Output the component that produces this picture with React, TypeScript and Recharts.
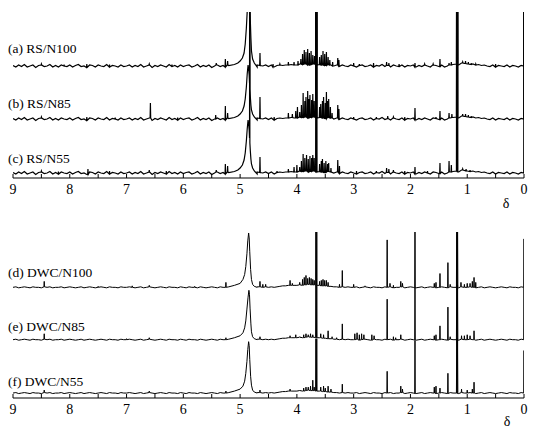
import React from 'react';
import { LineChart, Line, XAxis, YAxis } from 'recharts';

// chemical shift ticks, every 0.5 ppm, labelled on the integers
const TICKS = [9, 8.5, 8, 7.5, 7, 6.5, 6, 5.5, 5, 4.5, 4, 3.5, 3, 2.5, 2, 1.5, 1, 0.5, 0];
const LABELS_TOP = ['(a) RS/N100', '(b) RS/N85', '(c) RS/N55'];
const LABELS_BOTTOM = ['(d) DWC/N100', '(e) DWC/N85', '(f) DWC/N55'];

// baseline wiggle, 9.00 -> 0.00 ppm in 0.05 steps
const NOISE_TOP = [
  0.5, -1, 1, -0.5, 1.5, -1, 0, 1, -1.5, 0.5, 1, -0.5, 0, 1.5, -1, 0.5, -1, 1, 0, -0.5,
  1, -1, 0.5, 1.5, -0.5, 0, -1.5, 1, 0.5, -1, 1, 0, -0.5, 1.5, -1, 0.5, 0, -1, 1, -0.5,
  0, 1, -1, 0.5, -0.5, 1.5, -1, 0, 1, -1.5, 0.5, -0.5, 1, 0, -1, 1.5, -0.5, 0.5, -1, 1,
  -0.5, 0.5, 1, -1, 0, 1.5, -1, 0.5, -0.5, 1, -1.5, 0, 1, -0.5, 0.5, -1, 1, 0, -0.5, 1,
  0.5, -1, 1, 0, -0.5, 1, -1, 0.5, 0, 1, -0.5, 1, -1, 0.5, 1, 0.5, 1, 1, 1.5, 1,
  1, 2, 1.5, 2, 1, 1.5, 2, 1, 1.5, 1, 0.5, 1.5, 1, 0, 1, -0.5, 1, 0, -0.5, 1,
  0, -1, 0.5, 1, -0.5, 0, 1, -1, 0.5, 0, 1.5, -0.5, 0.5, -1, 1, 0, -0.5, 1, -1, 0.5,
  0, 1, -1, 0.5, -0.5, 1, 0, -1, 1, 0.5, -0.5, 1, -1, 0, 1, 1.5, 2, 1, 3, 2.5,
  2, 1.5, 2, 1, 1.5, 0.5, 1, 0, -0.5, 1, -1, 0.5, 0, -0.5, 1, -1, 0.5, 0, -1, 0.5,
  0,
];
const NOISE_BOTTOM = [
  0, 0.5, -0.5, 0, 0.5, 0, -0.5, 0.5, 0, 0, -0.5, 0.5, 0, 0.5, -0.5, 0, 0, 0.5, -0.5, 0,
  0.5, 0, -0.5, 0, 0.5, -0.5, 0, 0.5, 0, -0.5, 0, 0.5, 0, -0.5, 0.5, 0, 0, -0.5, 0.5, 0,
  0, 0.5, 0, -0.5, 0, 0.5, -0.5, 0, 0.5, 0, -0.5, 0, 0.5, 0, -0.5, 0.5, 0, 0, -0.5, 0.5,
  0, -0.5, 0.5, 0, 0, -0.5, 0.5, 0, -0.5, 0, 0.5, 0, -0.5, 0.5, 0, 0, 0.5, -0.5, 0, 0.5,
  0, 0.5, 0, -0.5, 0.5, 0, 0, 0.5, 0, 0.5, 0, 0.5, 0, 0.5, 1, 1.5, 1.5, 2, 2, 2,
  2, 2.5, 2, 2.5, 3, 2.5, 2.5, 2, 2, 1.5, 1.5, 1, 1, 0.5, 0.5, 0, 0.5, 0, 0.5, 0,
  0, 0.5, -0.5, 0, 0.5, 0, -0.5, 0.5, 0, 0, -0.5, 0.5, 0, 0.5, -0.5, 0, 0, 0.5, -0.5, 0,
  0.5, 0, -0.5, 0, 0.5, -0.5, 0, 0.5, 0, -0.5, 0, 0.5, 0, -0.5, 0.5, 0, 0, -0.5, 0.5, 0,
  0, 0.5, 0, -0.5, 0, 0.5, -0.5, 0, 0.5, 0, -0.5, 0, 0.5, 0, -0.5, 0.5, 0, 0, -0.5, 0.5,
  0,
];

// broad HOD peak, [ppm, intensity]
const WATER_A = [[5.2, 0.5], [5.1, 1.5], [5.04, 3], [5.0, 5], [4.96, 8], [4.93, 13], [4.91, 22], [4.89, 38], [4.87, 60], [4.85, 90], [4.84, 80], [4.834, 70], [4.831, 200], [4.828, 60], [4.82, 45], [4.81, 28], [4.8, 15], [4.78, 7], [4.75, 3], [4.7, 1]];
const WATER_B = [[5.2, 0.5], [5.1, 1.5], [5.04, 3], [5.0, 5], [4.96, 8], [4.93, 13], [4.91, 20], [4.89, 32], [4.875, 45], [4.86, 54], [4.85, 50], [4.84, 44], [4.834, 36], [4.831, 200], [4.828, 30], [4.82, 22], [4.81, 14], [4.8, 9], [4.78, 5], [4.75, 2], [4.7, 1]];
const WATER_C = [[5.2, 0.5], [5.1, 1.5], [5.04, 3], [5.0, 5], [4.96, 8], [4.93, 13], [4.91, 20], [4.89, 32], [4.875, 44], [4.86, 53], [4.85, 49], [4.84, 43], [4.834, 35], [4.831, 200], [4.828, 30], [4.82, 22], [4.81, 14], [4.8, 9], [4.78, 5], [4.75, 2], [4.7, 1]];
const WATER_D = [[5.2, 0.5], [5.1, 2], [5.0, 4], [4.95, 8], [4.92, 13], [4.9, 21], [4.88, 34], [4.865, 47], [4.85, 55], [4.84, 50], [4.83, 36], [4.815, 18], [4.8, 8], [4.78, 3], [4.75, 1], [4.7, 0.5]];
const WATER_E = [[5.2, 0.5], [5.1, 2], [5.0, 4], [4.95, 7], [4.92, 12], [4.9, 19], [4.88, 31], [4.86, 43], [4.845, 50], [4.835, 46], [4.825, 32], [4.81, 16], [4.8, 8], [4.78, 3], [4.75, 1], [4.7, 0.5]];
const WATER_F = [[5.2, 0.5], [5.1, 2], [5.0, 4], [4.95, 7], [4.92, 12], [4.9, 20], [4.88, 32], [4.865, 44], [4.85, 52], [4.84, 48], [4.83, 34], [4.815, 17], [4.8, 8], [4.78, 3], [4.75, 1], [4.7, 0.5]];

// sharp lines, [ppm, intensity]
const PEAKS_A = [[8.5, 2], [8.1, 1.5], [7.7, 2], [7.3, 1.5], [6.6, 2], [6.2, 1.5], [5.42, 3], [5.26, 7], [5.22, 5], [4.65, 13], [4.42, 2], [4.3, 2], [4.15, 4], [4.05, 4], [3.98, 5], [3.93, 7], [3.9, 12], [3.87, 16], [3.84, 14], [3.81, 17], [3.78, 13], [3.75, 15], [3.72, 11], [3.69, 10], [3.665, 200], [3.65, 200], [3.6, 9], [3.57, 11], [3.54, 15], [3.51, 12], [3.48, 14], [3.45, 9], [3.42, 6], [3.37, 4], [3.28, 8], [3.26, 6], [3.0, 3], [2.9, 2], [2.65, 3], [2.42, 4], [2.38, 3], [2.2, 2], [1.92, 3], [1.75, 2], [1.6, 2], [1.48, 7], [1.32, 3], [1.28, 4], [1.185, 200], [1.17, 200], [1.08, 4], [1.03, 5], [0.98, 4], [0.93, 3], [0.85, 2], [0.5, 2], [0, 200]];
const PEAKS_B = [[8.5, 2], [7.7, 2], [7.2, 1.5], [6.58, 16], [6.1, 1.5], [5.43, 4], [5.26, 13], [5.22, 6], [4.65, 22], [4.4, 2], [4.15, 6], [4.08, 5], [4.02, 8], [3.99, 12], [3.95, 7], [3.92, 14], [3.89, 26], [3.86, 18], [3.84, 22], [3.81, 28], [3.79, 20], [3.77, 24], [3.74, 19], [3.72, 25], [3.695, 18], [3.665, 200], [3.65, 200], [3.6, 12], [3.58, 15], [3.55, 18], [3.53, 22], [3.5, 16], [3.48, 27], [3.46, 18], [3.44, 20], [3.41, 12], [3.38, 6], [3.28, 14], [3.26, 10], [3.0, 2], [2.6, 2], [2.4, 3], [2.3, 2], [2.1, 2], [1.92, 11], [1.55, 2], [1.48, 8], [1.32, 6], [1.27, 5], [1.185, 200], [1.17, 200], [1.08, 5], [1.03, 5], [0.98, 4], [0.93, 3], [0, 200]];
const PEAKS_C = [[8.5, 2], [8.2, 1.5], [7.68, 4], [7.3, 2], [6.6, 3], [6.3, 2], [5.42, 3], [5.26, 9], [5.22, 7], [4.65, 16], [4.35, 2], [4.15, 4], [4.05, 6], [4.0, 8], [3.95, 6], [3.92, 12], [3.89, 19], [3.86, 15], [3.83, 18], [3.8, 14], [3.77, 17], [3.74, 15], [3.72, 18], [3.695, 15], [3.665, 200], [3.65, 200], [3.6, 9], [3.57, 12], [3.55, 14], [3.52, 10], [3.49, 12], [3.46, 9], [3.44, 10], [3.4, 5], [3.28, 13], [3.25, 7], [2.95, 2], [2.6, 2], [2.42, 5], [2.38, 4], [2.3, 3], [2.1, 2], [1.92, 6], [1.7, 2], [1.48, 10], [1.32, 12], [1.28, 8], [1.185, 200], [1.17, 200], [1.08, 4], [1.02, 4], [0.95, 3], [0, 200]];
const PEAKS_D = [[8.45, 6], [7.5, 1], [6.9, 1.5], [6.6, 2], [5.8, 1], [5.25, 5], [4.65, 6], [4.6, 3], [4.55, 3], [4.12, 7], [4.08, 4], [3.95, 5], [3.9, 8], [3.87, 10], [3.84, 12], [3.81, 9], [3.78, 10], [3.75, 9], [3.72, 8], [3.695, 7], [3.665, 70], [3.65, 70], [3.6, 6], [3.57, 7], [3.54, 8], [3.51, 7], [3.48, 7], [3.45, 5], [3.25, 3], [3.2, 17], [3.0, 3], [2.8, 1.5], [2.41, 48], [2.36, 4], [2.3, 2], [2.17, 6], [2.14, 4], [1.92, 70], [1.58, 4], [1.55, 5], [1.48, 14], [1.34, 25], [1.3, 3], [1.185, 70], [1.17, 70], [1.11, 5], [1.05, 3], [1.0, 4], [0.95, 4], [0.91, 6], [0.88, 10], [0.85, 5], [0, 49]];
const PEAKS_E = [[8.45, 6], [7.0, 1], [6.6, 2], [5.25, 2], [4.65, 3], [4.12, 4], [4.02, 5], [3.95, 3], [3.88, 5], [3.84, 6], [3.8, 5], [3.76, 6], [3.72, 5], [3.665, 55], [3.65, 55], [3.58, 6], [3.53, 5], [3.45, 9], [3.38, 3], [3.3, 2], [3.2, 16], [2.98, 6], [2.94, 7], [2.9, 5], [2.86, 6], [2.82, 5], [2.68, 5], [2.64, 4], [2.41, 41], [2.3, 3], [2.26, 2], [2.17, 5], [1.92, 53], [1.58, 4], [1.55, 5], [1.48, 14], [1.34, 33], [1.3, 3], [1.185, 55], [1.17, 55], [1.1, 4], [1.05, 4], [1.0, 5], [0.95, 4], [0.88, 9], [0, 53]];
const PEAKS_F = [[8.45, 3], [6.6, 2], [5.25, 2], [4.65, 3], [4.12, 4], [3.95, 3], [3.88, 5], [3.84, 6], [3.8, 6], [3.76, 7], [3.72, 13], [3.695, 6], [3.665, 55], [3.65, 55], [3.58, 6], [3.53, 7], [3.5, 5], [3.45, 7], [3.4, 4], [3.2, 9], [2.41, 22], [2.17, 7], [2.14, 4], [1.92, 53], [1.58, 6], [1.55, 7], [1.48, 5], [1.34, 20], [1.185, 55], [1.17, 55], [1.1, 4], [1.0, 3], [0.91, 4], [0.88, 11], [0, 43]];

// vertical placement of each trace inside its panel (y-axis domains)
const DOMAINS_TOP = [[-112, 54], [-59, 107], [-5, 161]];
const DOMAINS_BOTTOM = [[-112, 56], [-59, 109], [-5, 163]];

const FONT = "Times New Roman, Liberation Serif, Times, serif";
const STEP = 0.05;
const HALF = 0.005;

function noiseAt(noise: number[], p: number) {
  const k = Math.min(noise.length - 1, Math.max(0, Math.round((9 - p) / STEP)));
  return noise[k];
}

function buildSpectrum(noise: number[], peaks: number[][], water: number[][]) {
  const hi = water[0][0];
  const lo = water[water.length - 1][0];
  const pts: { p: number; v: number }[] = [];
  noise.forEach((v, k) => {
    const p = 9 - k * STEP;
    if (p > lo && p < hi) return;
    if (peaks.some(([q]) => Math.abs(q - p) < 0.015)) return;
    pts.push({ p, v });
  });
  peaks.forEach(([q, h]) => {
    const b = noiseAt(noise, q);
    pts.push({ p: q + HALF, v: b }, { p: q, v: h }, { p: q - HALF, v: b });
  });
  water.forEach(([q, h]) => pts.push({ p: q, v: h }));
  return pts.sort((a, b) => b.p - a.p);
}

const AxisTick = ({ x, y, payload }: any) => {
  const v = payload.value;
  return (
    <g>
      <line x1={x} y1={y} x2={x} y2={y - 4} stroke="#000" strokeWidth={1} />
      {Number.isInteger(v) && (
        <text x={x} y={y + 16} textAnchor="middle" fontSize={14} style={{ fontFamily: FONT }} fill="#000">
          {v}
        </text>
      )}
    </g>
  );
};

function Panel({ series, domains, width }: { series: { p: number; v: number }[][]; domains: number[][]; width: number }) {
  return (
    <LineChart width={540} height={200} margin={{ top: 12, right: 16, left: 13, bottom: 0 }}>
      <XAxis
        dataKey="p"
        type="number"
        domain={[0, 9]}
        reversed
        allowDataOverflow
        ticks={TICKS}
        interval={0}
        height={22}
        tickSize={0}
        tickMargin={0}
        tickLine={false}
        axisLine={{ stroke: '#000', strokeWidth: 1 }}
        tick={<AxisTick />}
      />
      {domains.map((d, i) => (
        <YAxis key={i} yAxisId={i} hide domain={d} allowDataOverflow type="number" />
      ))}
      {series.map((s, i) => (
        <Line
          key={i}
          yAxisId={i}
          data={s}
          dataKey="v"
          type="linear"
          stroke="#000"
          strokeWidth={width}
          dot={false}
          isAnimationActive={false}
        />
      ))}
    </LineChart>
  );
}

export default function App() {
  const top = [
    buildSpectrum(NOISE_TOP, PEAKS_A, WATER_A),
    buildSpectrum(NOISE_TOP, PEAKS_B, WATER_B),
    buildSpectrum(NOISE_TOP, PEAKS_C, WATER_C),
  ];
  const bottom = [
    buildSpectrum(NOISE_BOTTOM, PEAKS_D, WATER_D),
    buildSpectrum(NOISE_BOTTOM, PEAKS_E, WATER_E),
    buildSpectrum(NOISE_BOTTOM, PEAKS_F, WATER_F),
  ];
  const topY = [53, 108, 163];
  const bottomY = [277, 331, 386];
  const textStyle = { fontFamily: FONT };

  return (
    <div style={{ position: 'absolute', left: 0, top: 0, width: 540, height: 435, background: '#fff' }}>
      <div style={{ position: 'absolute', left: 0, top: 0 }}>
        <Panel series={top} domains={DOMAINS_TOP} width={1.2} />
      </div>
      <div style={{ position: 'absolute', left: 0, top: 220 }}>
        <Panel series={bottom} domains={DOMAINS_BOTTOM} width={1} />
      </div>
      <svg width={540} height={435} style={{ position: 'absolute', left: 0, top: 0, pointerEvents: 'none' }}>
        {LABELS_TOP.map((t, i) => (
          <text key={t} x={8} y={topY[i]} fontSize={13.5} style={textStyle} fill="#000">
            {t}
          </text>
        ))}
        {LABELS_BOTTOM.map((t, i) => (
          <text key={t} x={8} y={bottomY[i]} fontSize={13.5} style={textStyle} fill="#000">
            {t}
          </text>
        ))}
        <text x={506} y={208} textAnchor="middle" fontSize={14} style={textStyle} fill="#000">δ</text>
        <text x={507} y={426} textAnchor="middle" fontSize={14} style={textStyle} fill="#000">δ</text>
      </svg>
    </div>
  );
}
